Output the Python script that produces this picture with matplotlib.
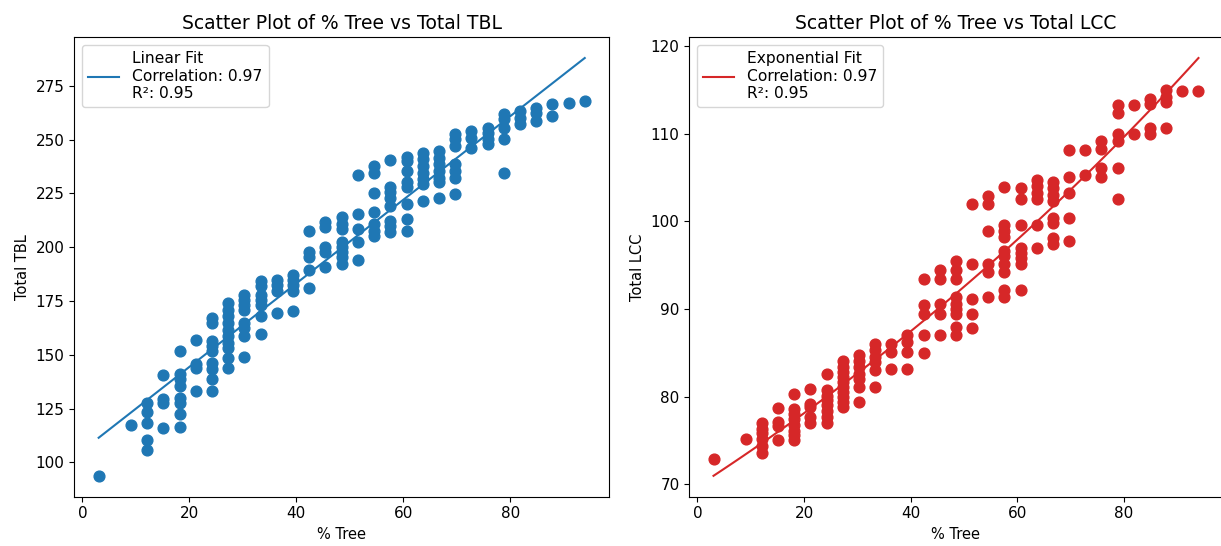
import matplotlib
matplotlib.use('Agg')
import matplotlib.pyplot as plt
import numpy as np

# % Tree takes discrete values k/33*100; each column lists the y values seen at that x
tree_cols = [3.03, 9.09, 12.12, 15.15, 18.18, 21.21, 24.24, 27.27, 30.30, 33.33,
             36.36, 39.39, 42.42, 45.45, 48.48, 51.52, 54.55, 57.58, 60.61, 63.64,
             66.67, 69.70, 72.73, 75.76, 78.79, 81.82, 84.85, 87.88, 90.91, 93.94]

tbl_cols = [
    [93.8],
    [117.4],
    [127.8, 123.6, 118.5, 110.5, 105.9],
    [140.6, 129.3, 127.8, 115.9],
    [151.7, 140.9, 138.6, 135.5, 130.1, 127.8, 122.7, 116.5],
    [156.8, 145.8, 143.7, 133.2],
    [167.1, 164.8, 156.3, 154.0, 151.7, 146.3, 143.2, 138.6, 133.2],
    [174.1, 171.0, 167.9, 164.8, 161.7, 158.6, 155.6, 153.2, 148.6, 143.7],
    [177.9, 175.6, 173.3, 171.0, 164.8, 162.5, 158.6, 148.9],
    [184.1, 181.8, 177.9, 175.6, 173.3, 167.9, 159.7],
    [184.9, 182.6, 179.5, 169.4],
    [187.2, 184.9, 182.6, 179.5, 170.5],
    [207.7, 197.7, 195.4, 189.5, 181.0],
    [211.6, 209.3, 200.0, 197.7, 190.7],
    [213.9, 210.8, 208.5, 202.3, 200.0, 197.7, 195.4, 192.3],
    [233.6, 215.4, 208.5, 202.3, 194.0],
    [237.8, 234.7, 225.0, 216.2, 210.8, 207.7, 205.4],
    [240.4, 227.8, 225.5, 223.1, 219.3, 212.3, 210.0, 206.9],
    [242.0, 240.1, 235.5, 230.1, 227.8, 220.1, 213.1, 207.7],
    [244.0, 240.9, 237.8, 234.7, 231.6, 229.3, 221.6],
    [244.8, 241.7, 238.6, 235.5, 232.4, 230.1, 223.1],
    [252.5, 250.2, 247.1, 238.6, 235.5, 232.4, 224.7],
    [254.0, 250.9, 246.3],
    [255.6, 253.2, 250.2, 247.8],
    [261.7, 259.4, 255.6, 250.2, 234.7],
    [263.3, 260.2, 257.1],
    [264.8, 262.5, 258.6],
    [266.4, 261.0],
    [267.1],
    [267.9],
]

lcc_cols = [
    [72.9],
    [75.1],
    [77.0, 76.3, 75.8, 75.2, 74.3, 73.6],
    [78.7, 77.1, 76.6, 75.0],
    [80.3, 78.6, 78.0, 77.4, 76.7, 76.1, 75.6, 75.0],
    [80.9, 79.2, 78.8, 77.7, 77.0],
    [82.6, 80.7, 80.1, 79.6, 79.0, 78.4, 77.7, 77.0],
    [84.1, 83.4, 82.8, 82.2, 81.7, 81.1, 80.5, 79.9, 79.4, 78.8],
    [84.7, 84.1, 83.4, 82.6, 82.0, 81.1, 79.4],
    [86.0, 85.3, 84.5, 83.9, 83.0, 81.1],
    [86.0, 85.1, 83.1],
    [87.0, 86.2, 85.1, 83.1],
    [93.4, 90.4, 89.4, 87.0, 85.0],
    [94.4, 93.4, 90.6, 89.4, 87.0],
    [95.5, 94.4, 93.4, 91.3, 90.6, 90.0, 89.4, 87.9, 87.0],
    [102.0, 95.1, 91.1, 89.4, 87.8],
    [102.9, 102.0, 98.9, 95.1, 94.2, 91.3],
    [103.9, 99.6, 98.9, 98.2, 96.6, 96.0, 95.1, 94.2, 92.1, 91.3],
    [103.8, 102.5, 99.6, 97.0, 96.4, 95.8, 95.1, 92.1],
    [104.7, 104.0, 103.2, 102.5, 99.6, 97.0],
    [104.5, 103.8, 103.0, 102.3, 100.4, 99.8, 98.1, 97.4],
    [108.1, 105.1, 103.2, 100.4, 97.7],
    [108.1, 105.3],
    [109.1, 108.3, 106.1, 105.1],
    [113.3, 112.3, 109.9, 109.1, 106.1, 102.5],
    [113.3, 109.9],
    [114.0, 113.4, 110.6, 109.9],
    [115.0, 114.2, 113.6, 110.6],
    [114.9],
    [114.9],
]

# fit parameters
lin_slope, lin_intercept = 1.941, 105.6
exp_a, exp_b = 69.75, 0.005653

lin_label = 'Linear Fit\nCorrelation: 0.97\nR²: 0.95'
exp_label = 'Exponential Fit\nCorrelation: 0.97\nR²: 0.95'

# flatten the columns
x_tbl = np.concatenate([[x] * len(c) for x, c in zip(tree_cols, tbl_cols)])
y_tbl = np.concatenate(tbl_cols)
x_lcc = np.concatenate([[x] * len(c) for x, c in zip(tree_cols, lcc_cols)])
y_lcc = np.concatenate(lcc_cols)

plt.rcParams['xtick.labelsize'] = 11
plt.rcParams['ytick.labelsize'] = 11
plt.rcParams['axes.labelsize'] = 10.5
plt.rcParams['axes.titlesize'] = 13.5
plt.rcParams['legend.fontsize'] = 11.2

fig = plt.figure(figsize=(12.21, 5.46), dpi=100)
ax1 = fig.add_axes([0.0609, 0.0903, 0.4379, 0.8417])
ax2 = fig.add_axes([0.5645, 0.0903, 0.4369, 0.8417])

# left: linear fit
ax1.scatter(x_tbl, y_tbl, color='#1f77b4', s=60)
xs = np.linspace(x_tbl.min(), x_tbl.max(), 100)
ax1.plot(xs, lin_slope * xs + lin_intercept, color='#1f77b4', label=lin_label)
ax1.set_title('Scatter Plot of % Tree vs Total TBL')
ax1.set_xlabel('% Tree')
ax1.set_ylabel('Total TBL')
ax1.legend(loc='upper left')

# right: exponential fit
ax2.scatter(x_lcc, y_lcc, color='#d62728', s=60)
xs2 = np.linspace(x_lcc.min(), x_lcc.max(), 100)
ax2.plot(xs2, exp_a * np.exp(exp_b * xs2), color='#d62728', label=exp_label)
ax2.set_title('Scatter Plot of % Tree vs Total LCC')
ax2.set_xlabel('% Tree')
ax2.set_ylabel('Total LCC')
ax2.legend(loc='upper left')

fig.savefig('out.png', dpi=100)
